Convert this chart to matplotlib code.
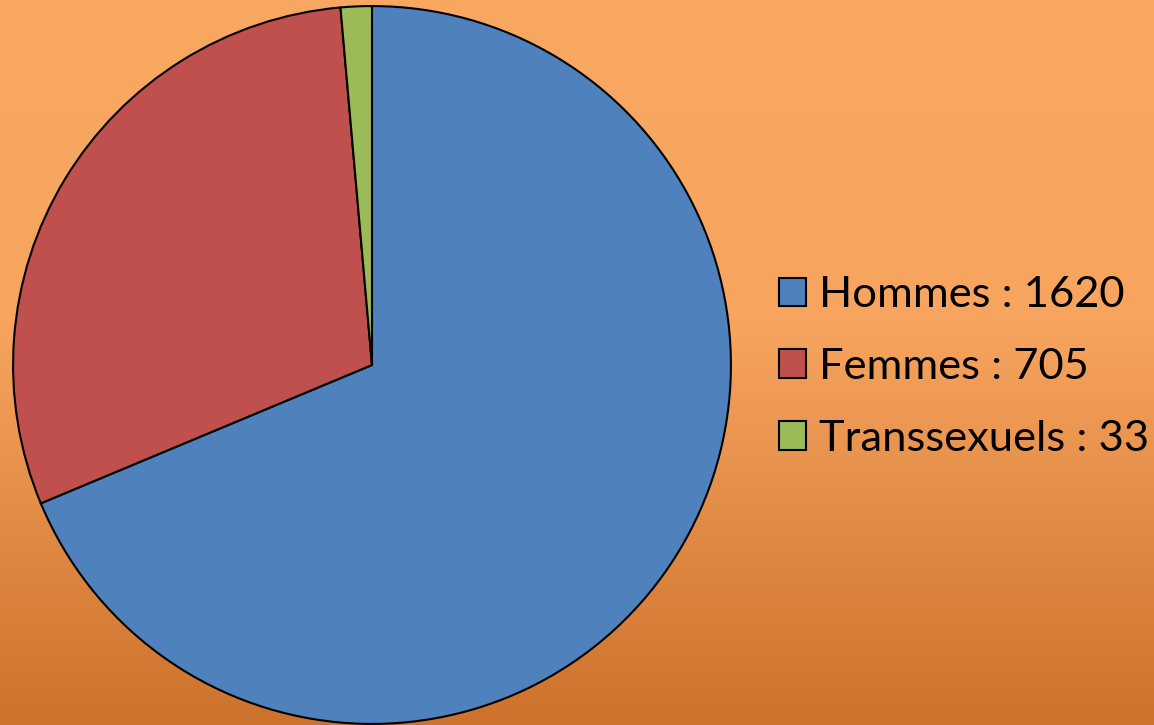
import numpy as np
import matplotlib
matplotlib.use("Agg")
import matplotlib.pyplot as plt
from matplotlib.colors import LinearSegmentedColormap

labels = ["Hommes", "Femmes", "Transsexuels"]
values = [1620, 705, 33]
colors = ["#4F81BD", "#C0504D", "#9BBB59"]

fig = plt.figure(figsize=(11.54, 7.25), dpi=100)

# orange gradient background
bg = fig.add_axes([0, 0, 1, 1])
grad = np.linspace(0, 1, 256).reshape(-1, 1)
cmap = LinearSegmentedColormap.from_list("bg", [(0, "#F9A862"), (0.45, "#F6A45E"), (1, "#CD722D")])
bg.imshow(grad, aspect="auto", cmap=cmap, extent=[0, 1, 0, 1], origin="upper")
bg.axis("off")

ax = fig.add_axes([12 / 1154, 0.0, 720 / 1154, 720 / 725])
wedges, _ = ax.pie(values, colors=colors, startangle=90, counterclock=False, radius=1,
                   wedgeprops=dict(edgecolor="black", linewidth=1.5))
ax.set_xlim(-1.003, 1.003)
ax.set_ylim(-1.003, 1.003)
ax.set_aspect("equal")
ax.axis("off")

leg_labels = [f"{l} : {v}" for l, v in zip(labels, values)]
leg = fig.legend(wedges, leg_labels, loc="center left", bbox_to_anchor=(757 / 1154, 1 - 367 / 725),
                 frameon=False, handlelength=0.63, handleheight=0.63, handletextpad=0.3,
                 labelspacing=0.78, borderpad=0, prop={"family": "Lato", "size": 31.3})

fig.savefig("out.png", dpi=100)
